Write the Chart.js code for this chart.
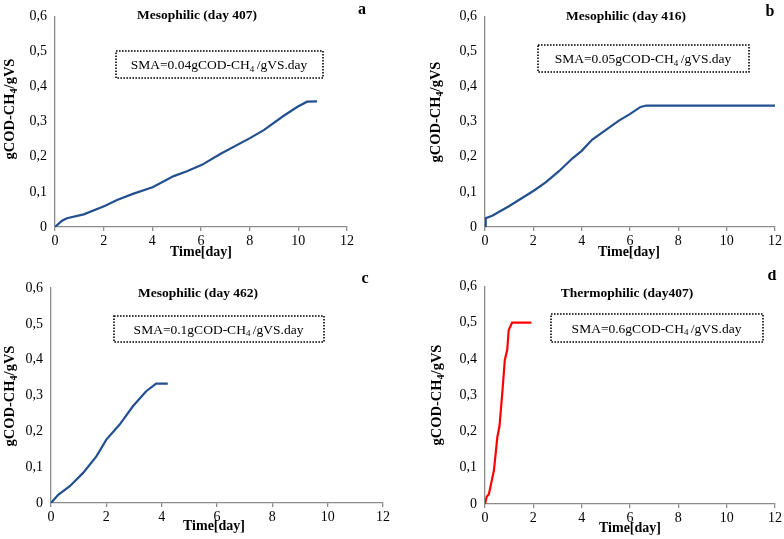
<!DOCTYPE html>
<html>
<head>
<meta charset="utf-8">
<script src="https://cdn.jsdelivr.net/npm/chart.js@4.4.1/dist/chart.umd.min.js"></script>
<style>
    html, body { margin: 0; padding: 0; background: #ffffff; }
    #wrap { position: relative; width: 784px; height: 539px; }
    canvas { position: absolute; }
</style>
</head>
<body>
<div id="wrap">
    <canvas id="chartA" width="392" height="270" style="left:0;top:0"></canvas>
    <canvas id="chartB" width="392" height="270" style="left:392px;top:0"></canvas>
    <canvas id="chartC" width="392" height="269" style="left:0;top:270px"></canvas>
    <canvas id="chartD" width="392" height="269" style="left:392px;top:270px"></canvas>
</div>
<script>
// time [day] and gCOD-CH4/gVS
const timeA = [0, 0.29, 0.49, 1.18, 2.04, 2.55, 3.23, 4.01, 4.88, 5.42, 6.04, 6.79, 8.03, 8.58, 9.4, 9.95, 10.36, 10.77];
const codA  = [0, 0.018, 0.025, 0.036, 0.06, 0.077, 0.095, 0.113, 0.145, 0.159, 0.177, 0.208, 0.254, 0.276, 0.317, 0.342, 0.357, 0.358];

const timeB = [0, 0.03, 0.3, 0.99, 2.03, 2.51, 3.06, 3.61, 4.0, 4.44, 4.99, 5.54, 5.96, 6.44, 6.67, 12];
const codB  = [0, 0.025, 0.032, 0.059, 0.104, 0.127, 0.159, 0.195, 0.217, 0.249, 0.276, 0.303, 0.32, 0.342, 0.346, 0.346];

const timeC = [0, 0.26, 0.68, 1.16, 1.64, 2.0, 2.48, 2.96, 3.44, 3.8, 4.22];
const codC  = [0, 0.023, 0.047, 0.084, 0.13, 0.177, 0.219, 0.27, 0.312, 0.333, 0.333];

const timeD = [0, 0.07, 0.16, 0.37, 0.51, 0.6, 0.71, 0.82, 0.92, 0.98, 1.12, 1.92];
const codD  = [0, 0.02, 0.027, 0.093, 0.184, 0.215, 0.302, 0.397, 0.425, 0.479, 0.5, 0.5];

const xTicks = [0, 2, 4, 6, 8, 10, 12];
const yTicks = [0, 0.1, 0.2, 0.3, 0.4, 0.5, 0.6];

const panelTitles = ["Mesophilic (day 407)", "Mesophilic (day 416)", "Mesophilic (day 462)", "Thermophilic (day407)"];
const panelLetters = ["a", "b", "c", "d"];
const smaValues = ["0.04", "0.05", "0.1", "0.6"];

const blueLine = "#22508f";
const redLine = "#ff0000";
const axisGray = "#8c8c8c";
const serif = "'Liberation Serif', 'Times New Roman', serif";

// draws the panel title, letter, dotted SMA box and both axis titles
const panelText = {
    id: "panelText",
    afterDraw(chart, args, o) {
        const ctx = chart.ctx;
        ctx.save();
        ctx.fillStyle = "#000";
        ctx.textBaseline = "middle";

        ctx.textAlign = "center";
        ctx.font = "bold 13.5px " + serif;
        ctx.fillText(o.title, o.titleX, o.titleY);
        ctx.font = "bold 16px " + serif;
        ctx.fillText(o.letter, o.letterX, o.letterY);

        // dotted box
        const b = o.box;
        ctx.strokeStyle = "#000";
        ctx.lineWidth = 1.6;
        ctx.setLineDash([1.6, 1.4]);
        ctx.strokeRect(b[0], b[1], b[2] - b[0], b[3] - b[1]);
        ctx.setLineDash([]);

        // SMA text with subscript 4
        const parts = ["SMA=" + o.sma + "gCOD-CH", "4", " /gVS.day"];
        ctx.font = "13.5px " + serif;
        const w0 = ctx.measureText(parts[0]).width;
        const w2 = ctx.measureText(parts[2]).width;
        ctx.font = "9px " + serif;
        const w1 = ctx.measureText(parts[1]).width;
        let x = (b[0] + b[2]) / 2 - (w0 + w1 + w2) / 2;
        const y = (b[1] + b[3]) / 2 + 1;
        ctx.textAlign = "left";
        ctx.font = "13.5px " + serif;
        ctx.fillText(parts[0], x, y);
        x += w0;
        ctx.font = "9px " + serif;
        ctx.fillText(parts[1], x, y + 4);
        x += w1;
        ctx.font = "13.5px " + serif;
        ctx.fillText(parts[2], x - 1, y);

        // x axis title
        ctx.textAlign = "center";
        ctx.font = "bold 14px " + serif;
        ctx.fillText("Time[day]", o.xTitleX, o.xTitleY);

        // y axis title, rotated
        ctx.translate(o.yTitleX, o.yTitleY);
        ctx.rotate(-Math.PI / 2);
        const a = "gCOD-CH", s = "4", c = "/gVS";
        ctx.font = "bold 14.5px " + serif;
        const wa = ctx.measureText(a).width;
        const wc = ctx.measureText(c).width;
        ctx.font = "bold 10px " + serif;
        const ws = ctx.measureText(s).width;
        let tx = -(wa + ws + wc) / 2;
        ctx.textAlign = "left";
        ctx.font = "bold 14.5px " + serif;
        ctx.fillText(a, tx, 0);
        tx += wa;
        ctx.font = "bold 10px " + serif;
        ctx.fillText(s, tx, 4);
        tx += ws;
        ctx.font = "bold 14.5px " + serif;
        ctx.fillText(c, tx, 0);
        ctx.restore();
    }
};

function makePanel(canvasId, xs, ys, color, p) {
    const canvas = document.getElementById(canvasId);
    const w = canvas.width, h = canvas.height;
    const points = xs.map(function (x, i) { return { x: x, y: ys[i] }; });

    return new Chart(canvas, {
        type: "scatter",
        data: {
            datasets: [{
                data: points,
                showLine: true,
                borderColor: color,
                borderWidth: 2.2,
                pointRadius: 0,
                tension: 0
            }]
        },
        options: {
            responsive: false,
            animation: false,
            layout: {
                padding: { left: 0, right: w - p.plot[1], top: p.plot[2], bottom: 0 }
            },
            plugins: {
                legend: { display: false },
                tooltip: { enabled: false },
                panelText: p.text
            },
            scales: {
                x: {
                    type: "linear",
                    min: 0,
                    max: 12,
                    afterBuildTicks: function (scale) {
                        scale.ticks = xTicks.map(function (v) { return { value: v }; });
                    },
                    afterFit: function (scale) { scale.height = h - p.plot[3]; },
                    border: { color: axisGray, width: 1.3 },
                    grid: { drawOnChartArea: false, drawTicks: true, tickLength: 4, color: axisGray, lineWidth: 1.3 },
                    ticks: {
                        color: "#000",
                        padding: 2,
                        maxRotation: 0,
                        font: { family: serif, size: 14 }
                    }
                },
                y: {
                    min: 0,
                    max: 0.6,
                    afterBuildTicks: function (scale) {
                        scale.ticks = yTicks.map(function (v) { return { value: v }; });
                    },
                    afterFit: function (scale) { scale.width = p.plot[0]; },
                    border: { color: axisGray, width: 1.3 },
                    grid: { drawOnChartArea: false, drawTicks: false },
                    ticks: {
                        color: "#000",
                        padding: 8,
                        font: { family: serif, size: 14 },
                        callback: function (v) {
                            return v === 0 ? "0" : v.toFixed(1).replace(".", ",");
                        }
                    }
                }
            }
        },
        plugins: [panelText]
    });
}

// plot = [left, right, top, bottom] in canvas pixels
makePanel("chartA", timeA, codA, blueLine, {
    plot: [55, 347, 6, 227],
    text: {
        title: panelTitles[0], titleX: 197, titleY: 16,
        letter: panelLetters[0], letterX: 362, letterY: 10,
        sma: smaValues[0], box: [116, 51, 323, 78],
        xTitleX: 201, xTitleY: 252, yTitleX: 10, yTitleY: 109
    }
});

makePanel("chartB", timeB, codB, blueLine, {
    plot: [93, 383, 6, 227],
    text: {
        title: panelTitles[1], titleX: 234, titleY: 17,
        letter: panelLetters[1], letterX: 378, letterY: 12,
        sma: smaValues[1], box: [146, 45, 357, 72],
        xTitleX: 237, xTitleY: 252, yTitleX: 44, yTitleY: 112
    }
});

makePanel("chartC", timeC, codC, blueLine, {
    plot: [51, 385, 18, 233],
    text: {
        title: panelTitles[2], titleX: 198, titleY: 24,
        letter: panelLetters[2], letterX: 365, letterY: 9,
        sma: smaValues[2], box: [114, 46, 324, 72],
        xTitleX: 214, xTitleY: 256, yTitleX: 10, yTitleY: 126
    }
});

makePanel("chartD", timeD, codD, redLine, {
    plot: [93, 385, 14, 234],
    text: {
        title: panelTitles[3], titleX: 235, titleY: 24,
        letter: panelLetters[3], letterX: 380, letterY: 6,
        sma: smaValues[3], box: [159, 44, 371, 72],
        xTitleX: 238, xTitleY: 258, yTitleX: 45, yTitleY: 125
    }
});
</script>
</body>
</html>
